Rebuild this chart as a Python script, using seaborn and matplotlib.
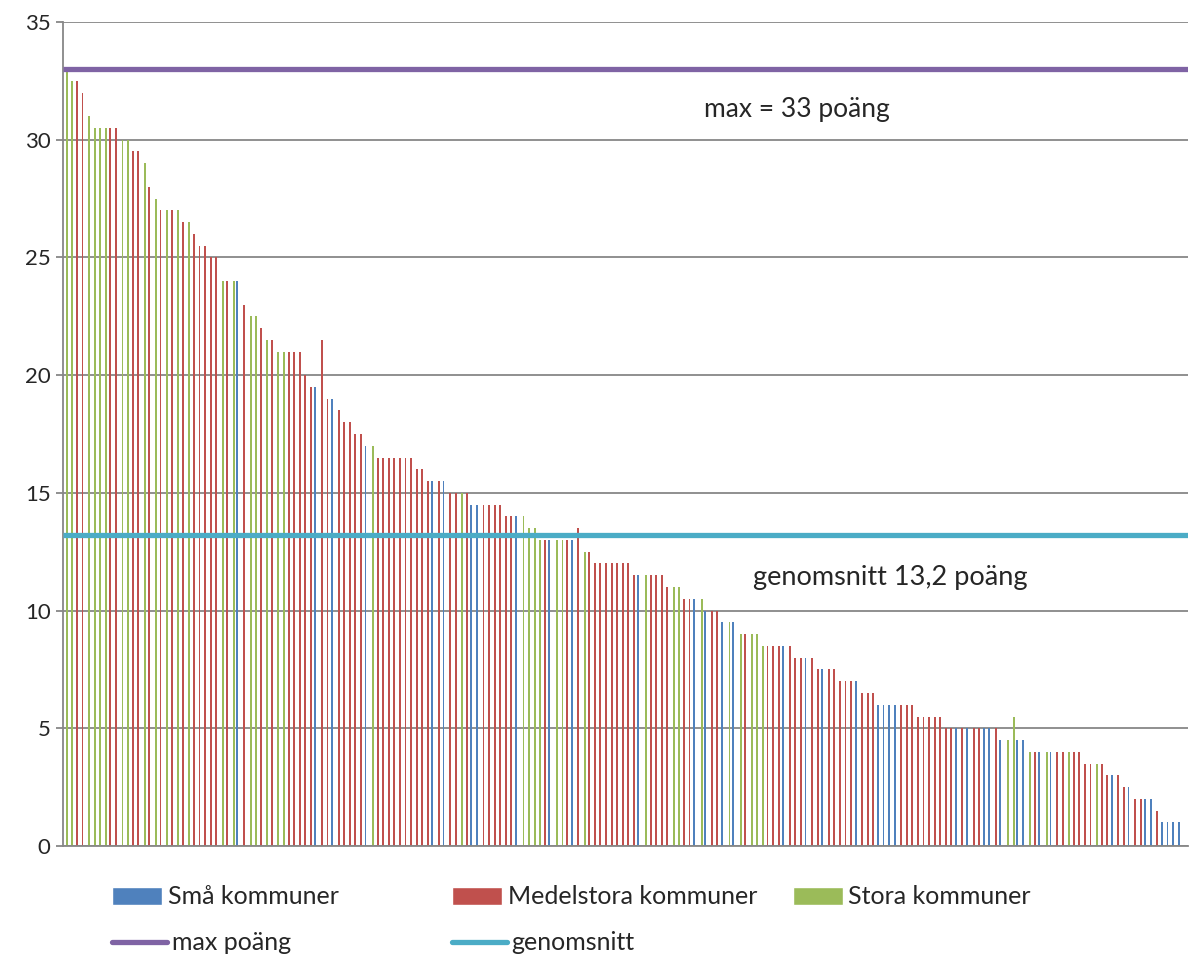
import matplotlib
matplotlib.use("Agg")
import matplotlib.pyplot as plt
import seaborn as sns
import pandas as pd
from matplotlib.patches import Patch
from matplotlib.lines import Line2D

# Poäng per kommun, sorterat från högst till lägst
poang = [
    33, 32.5, 32.5, 32, 31, 30.5, 30.5, 30.5, 30.5, 30.5,
    30, 30, 29.5, 29.5, 29, 28, 27.5, 27, 27, 27,
    27, 26.5, 26.5, 26, 25.5, 25.5, 25, 25, 24, 24,
    24, 24, 23, 22.5, 22.5, 22, 21.5, 21.5, 21, 21,
    21, 21, 21, 20, 19.5, 19.5, 21.5, 19, 19, 18.5,
    18, 18, 17.5, 17.5, 17, 17, 16.5, 16.5, 16.5, 16.5,
    16.5, 16.5, 16.5, 16, 16, 15.5, 15.5, 15.5, 15.5, 15,
    15, 15, 15, 14.5, 14.5, 14.5, 14.5, 14.5, 14.5, 14,
    14, 14, 14, 13.5, 13.5, 13, 13, 13, 13, 13,
    13, 13, 13.5, 12.5, 12.5, 12, 12, 12, 12, 12,
    12, 12, 11.5, 11.5, 11.5, 11.5, 11.5, 11.5, 11, 11,
    11, 10.5, 10.5, 10.5, 10.5, 10, 10, 10, 9.5, 9.5,
    9.5, 9, 9, 9, 9, 8.5, 8.5, 8.5, 8.5, 8.5,
    8.5, 8, 8, 8, 8, 7.5, 7.5, 7.5, 7.5, 7,
    7, 7, 7, 6.5, 6.5, 6.5, 6, 6, 6, 6,
    6, 6, 6, 5.5, 5.5, 5.5, 5.5, 5.5, 5, 5,
    5, 5, 5, 5, 5, 5, 5, 5, 4.5, 4.5,
    5.5, 4.5, 4.5, 4, 4, 4, 4, 4, 4, 4,
    4, 4, 4, 3.5, 3.5, 3.5, 3.5, 3, 3, 3,
    2.5, 2.5, 2, 2, 2, 2, 1.5, 1, 1, 1, 1,
]

# Kommunstorlek per kommun: B = små, R = medelstora, G = stora
storlek_kod = (
    "GGRRGGGGRR" "GGRRGRGRGR" "GRGRRRRRGR" "GBRGGRGRGG"
    "RRRRRBRRBR" "RRRRBGRRRR" "RRRRRRBRBR" "RGRBBRRRRR"
    "RBGGGGRBGG" "RBRGRRRRRR" "RRRBGRRRRG" "GRRBGBRRBG"
    "BGRGGGRRRB" "RRRBRRBRRR" "RRBRRRBBBB" "RRRRRRRRRR"
    "BRBRRBBRBG" "GBBGRBGBRR" "GRRRRGRRBR" "RBRRBBRBBBB"
)
kod_till_grupp = {"B": "Små kommuner", "R": "Medelstora kommuner", "G": "Stora kommuner"}
grupper = ["Små kommuner", "Medelstora kommuner", "Stora kommuner"]
farger = ["#4F81BD", "#C0504D", "#9BBB59"]

max_poang = 33
genomsnitt = 13.2
antal_platser = 202  # en tom plats efter sista kommunen
y_ticks = [0, 5, 10, 15, 20, 25, 30, 35]

df = pd.DataFrame({
    "kommun": list(range(len(poang))),
    "poang": poang,
    "grupp": [kod_till_grupp[k] for k in storlek_kod],
})

sns.set_style("white")
plt.rcParams["font.family"] = ["Lato", "DejaVu Sans"]

fig = plt.figure(figsize=(11.91, 9.61), dpi=100)
ax = fig.add_axes([63 / 1191, 115 / 961, 1125 / 1191, 824 / 961])

sns.barplot(
    data=df, x="kommun", y="poang", hue="grupp", hue_order=grupper,
    palette=farger, dodge=True, width=0.54, errorbar=None,
    legend=False, ax=ax, saturation=1, linewidth=0,
)

# smala staplar, lite bredare än seaborns standard vid tre grupper
for p in ax.patches:
    c = p.get_x() + p.get_width() / 2
    p.set_width(0.34)
    p.set_x(c - 0.17)

ax.axhline(max_poang, color="#7F63A4", lw=3.8, zorder=5, solid_capstyle="butt")
ax.axhline(genomsnitt, color="#4BACC6", lw=3.8, zorder=5, solid_capstyle="butt")

ax.set_xlim(-0.5, antal_platser - 0.5)
ax.set_ylim(0, 35)
ax.set_yticks(y_ticks)
ax.set_yticklabels([str(t) for t in y_ticks], fontsize=16)
ax.set_xticks([])
ax.set_xlabel("")
ax.set_ylabel("")

ax.set_axisbelow(True)
ax.yaxis.grid(True, color="#878787", lw=1.3)
ax.tick_params(axis="y", length=5, width=1.3, color="#878787", pad=4, direction="out", left=True)
for side in ["top", "right"]:
    ax.spines[side].set_visible(False)
for side in ["left", "bottom"]:
    ax.spines[side].set_color("#878787")
    ax.spines[side].set_linewidth(1.3)

tr = ax.get_yaxis_transform()
ax.text(0.652, 31.3, "max = 33 poäng", transform=tr, ha="center", va="center", fontsize=19)
ax.text(0.735, 11.4, "genomsnitt 13,2 poäng", transform=tr, ha="center", va="center", fontsize=19.5)

# förklaring: två rader, tre kolumner
fs = 18
poster = [
    (Patch(facecolor=farger[0]), "Små kommuner", 112, 897),
    (Patch(facecolor=farger[1]), "Medelstora kommuner", 452, 897),
    (Patch(facecolor=farger[2]), "Stora kommuner", 793, 897),
    (Line2D([], [], color="#7F63A4", lw=3.8), "max poäng", 112, 943),
    (Line2D([], [], color="#4BACC6", lw=3.8), "genomsnitt", 452, 943),
]
for h, lab, px, py in poster:
    is_line = isinstance(h, Line2D)
    fig.legend(
        [h], [lab], loc="center left",
        bbox_to_anchor=(px / 1191, 1 - py / 961),
        frameon=False, fontsize=fs, borderpad=0, borderaxespad=0,
        handlelength=2.2 if is_line else 2.0, handleheight=0.72,
        handletextpad=0.18 if is_line else 0.22,
    )

fig.savefig("out.png", dpi=100)
